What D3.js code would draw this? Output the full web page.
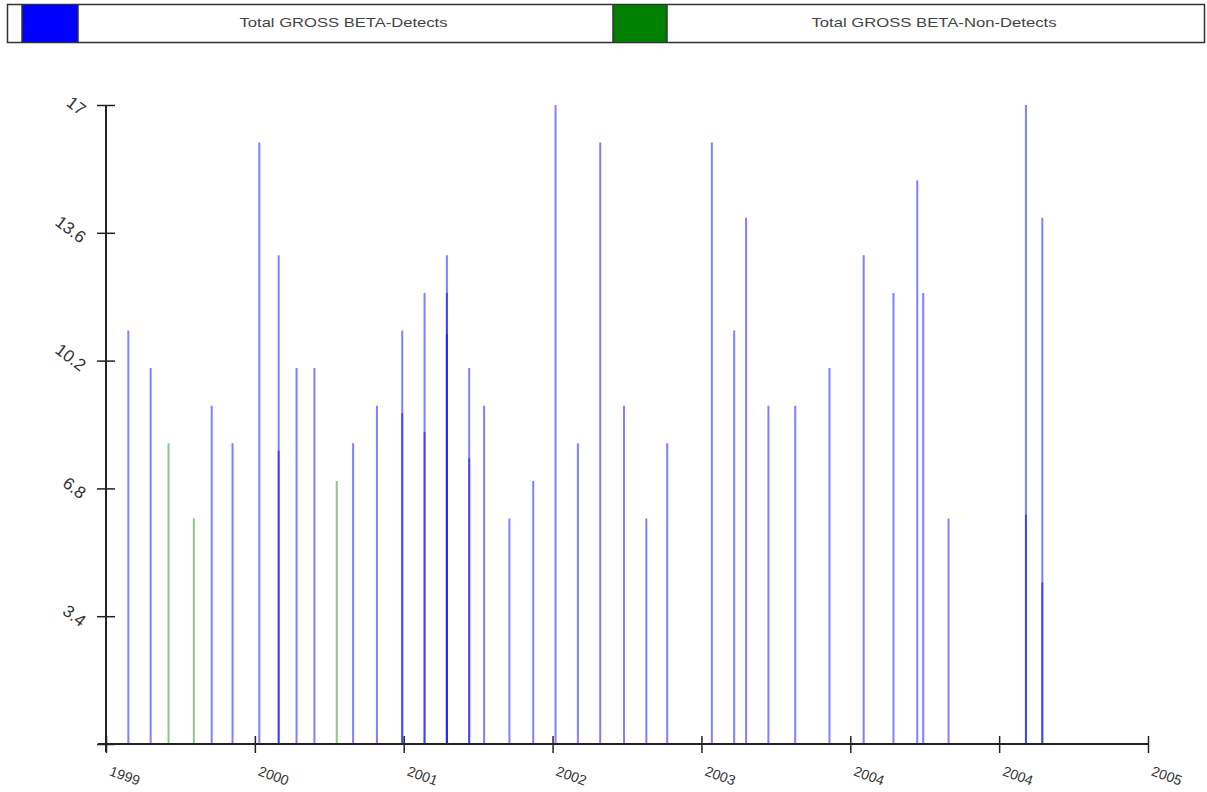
<!DOCTYPE html>
<html>
<head>
<meta charset="utf-8">
<script src="https://cdn.jsdelivr.net/npm/d3@7"></script>
<style>
  html, body { margin: 0; padding: 0; background: #fff; }
  svg { display: block; font-family: "Liberation Sans", Arial, sans-serif; }
</style>
</head>
<body>
<svg id="chart" width="1207" height="792"></svg>
<script>
// ---- Data ----
const seriesNames = ["Total GROSS BETA-Detects", "Total GROSS BETA-Non-Detects"];
const seriesColors = ["#0000ff", "#008000"];

// x positions are in axis "year" units (tick i sits at 1999 + i)
const detectDates = [
  1999.15, 1999.30, 1999.71, 1999.85, 2000.03, 2000.16, 2000.16, 2000.28, 2000.40,
  2000.66, 2000.82, 2000.99, 2000.99, 2001.14, 2001.14, 2001.29, 2001.29, 2001.29,
  2001.44, 2001.44, 2001.54, 2001.71, 2001.87, 2002.02, 2002.17, 2002.32, 2002.48,
  2002.63, 2002.77, 2003.07, 2003.22, 2003.30, 2003.45, 2003.63, 2003.86, 2004.09,
  2004.29, 2004.45, 2004.49, 2004.66, 2005.18, 2005.18, 2005.29, 2005.29
];
const detectValues = [
  11, 10, 9, 8, 16, 13, 7.8, 10, 10,
  8, 9, 11, 8.8, 12, 8.3, 13, 12, 10.9,
  10, 7.6, 9, 6, 7, 17, 8, 16, 9,
  6, 8, 16, 11, 14, 9, 9, 10, 13,
  12, 15, 12, 6, 17, 6.1, 14, 4.3
];
const nonDetectDates = [1999.42, 1999.59, 2000.55];
const nonDetectValues = [8, 6, 7];

const xTickValues = [1999, 2000, 2001, 2002, 2003, 2004, 2005, 2006];
const xTickLabels = ["1999", "2000", "2001", "2002", "2003", "2004", "2004", "2005"];
const yTickValues = [0, 3.4, 6.8, 10.2, 13.6, 17];
const yTickLabels = ["", "3.4", "6.8", "10.2", "13.6", "17"];

// ---- Layout ----
const svg = d3.select("#chart");
const plot = { left: 106, right: 1148, top: 105, bottom: 744 };

const x = d3.scaleLinear().domain([1999, 2006]).range([plot.left, plot.right]);
const y = d3.scaleLinear().domain([0, 17]).range([plot.bottom, plot.top]);

// ---- Legend ----
const leg = svg.append("g");
leg.append("rect").attr("x", 7.5).attr("y", 4.5).attr("width", 1197).attr("height", 38)
  .attr("fill", "#fff").attr("stroke", "#333").attr("stroke-width", 1.5);
const legCells = [
  { sx: 22, sw: 56, tx: 78, tw: 535, tl: 208 },
  { sx: 613, sw: 54, tx: 667, tw: 538, tl: 245 }
];
legCells.forEach((c, i) => {
  leg.append("rect").attr("x", c.sx).attr("y", 5).attr("width", c.sw).attr("height", 37)
    .attr("fill", seriesColors[i]);
  leg.append("line").attr("x1", c.sx).attr("x2", c.sx).attr("y1", 4.5).attr("y2", 42.5)
    .attr("stroke", "#333").attr("stroke-width", 1.5);
  leg.append("line").attr("x1", c.tx).attr("x2", c.tx).attr("y1", 4.5).attr("y2", 42.5)
    .attr("stroke", "#333").attr("stroke-width", 1.5);
  leg.append("text").attr("x", c.tx + c.tw / 2 - 2).attr("y", 27)
    .attr("text-anchor", "middle").attr("font-size", 13).attr("fill", "#444")
    .attr("textLength", c.tl).attr("lengthAdjust", "spacingAndGlyphs")
    .text(seriesNames[i]);
});

// ---- Bars (vertical lines) ----
const bars = svg.append("g");
const detects = detectDates.map((d, i) => ({ d, v: detectValues[i] }));
const nonDetects = nonDetectDates.map((d, i) => ({ d, v: nonDetectValues[i] }));

bars.selectAll("line.nd").data(nonDetects).join("line")
  .attr("class", "nd")
  .attr("x1", p => x(p.d)).attr("x2", p => x(p.d))
  .attr("y1", y(0)).attr("y2", p => y(p.v))
  .attr("stroke", seriesColors[1]).attr("stroke-opacity", 0.45).attr("stroke-width", 2);

bars.selectAll("line.det").data(detects).join("line")
  .attr("class", "det")
  .attr("x1", p => x(p.d)).attr("x2", p => x(p.d))
  .attr("y1", y(0)).attr("y2", p => y(p.v))
  .attr("stroke", seriesColors[0]).attr("stroke-opacity", 0.5).attr("stroke-width", 2);

// ---- Axes ----
const axisColor = "#222";
const yAxis = d3.axisLeft(y).tickValues(yTickValues).tickSize(0).tickFormat("");
const gy = svg.append("g").attr("transform", `translate(${plot.left},0)`).call(yAxis);
gy.select(".domain").remove();
gy.append("line").attr("x1", 0).attr("x2", 0).attr("y1", plot.top).attr("y2", plot.bottom + 8)
  .attr("stroke", axisColor).attr("stroke-width", 2);
gy.selectAll(".tick").each(function (v) {
  const t = d3.select(this);
  t.select("line").remove();
  t.append("line").attr("x1", -9).attr("x2", 9).attr("y1", 0).attr("y2", 0)
    .attr("stroke", axisColor).attr("stroke-width", 1.5);
  t.select("text").remove();
  t.append("text").attr("transform", "translate(-22,6) rotate(37)")
    .attr("text-anchor", "end").attr("dy", "0.35em")
    .attr("font-size", 17).attr("fill", "#333")
    .text(yTickLabels[yTickValues.indexOf(v)]);
});

const xAxis = d3.axisBottom(x).tickValues(xTickValues).tickSize(0).tickFormat("");
const gx = svg.append("g").attr("transform", `translate(0,${plot.bottom})`).call(xAxis);
gx.select(".domain").remove();
gx.append("line").attr("x1", plot.left - 8).attr("x2", plot.right).attr("y1", 0).attr("y2", 0)
  .attr("stroke", axisColor).attr("stroke-width", 2);
gx.selectAll(".tick").each(function (v) {
  const t = d3.select(this);
  t.select("line").remove();
  t.append("line").attr("x1", 0).attr("x2", 0).attr("y1", -8).attr("y2", 9)
    .attr("stroke", axisColor).attr("stroke-width", 1.5);
  t.select("text").remove();
  t.append("text").attr("transform", "translate(2,31) rotate(20)")
    .attr("text-anchor", "start").attr("font-size", 14).attr("fill", "#333")
    .text(xTickLabels[xTickValues.indexOf(v)]);
});
</script>
</body>
</html>
